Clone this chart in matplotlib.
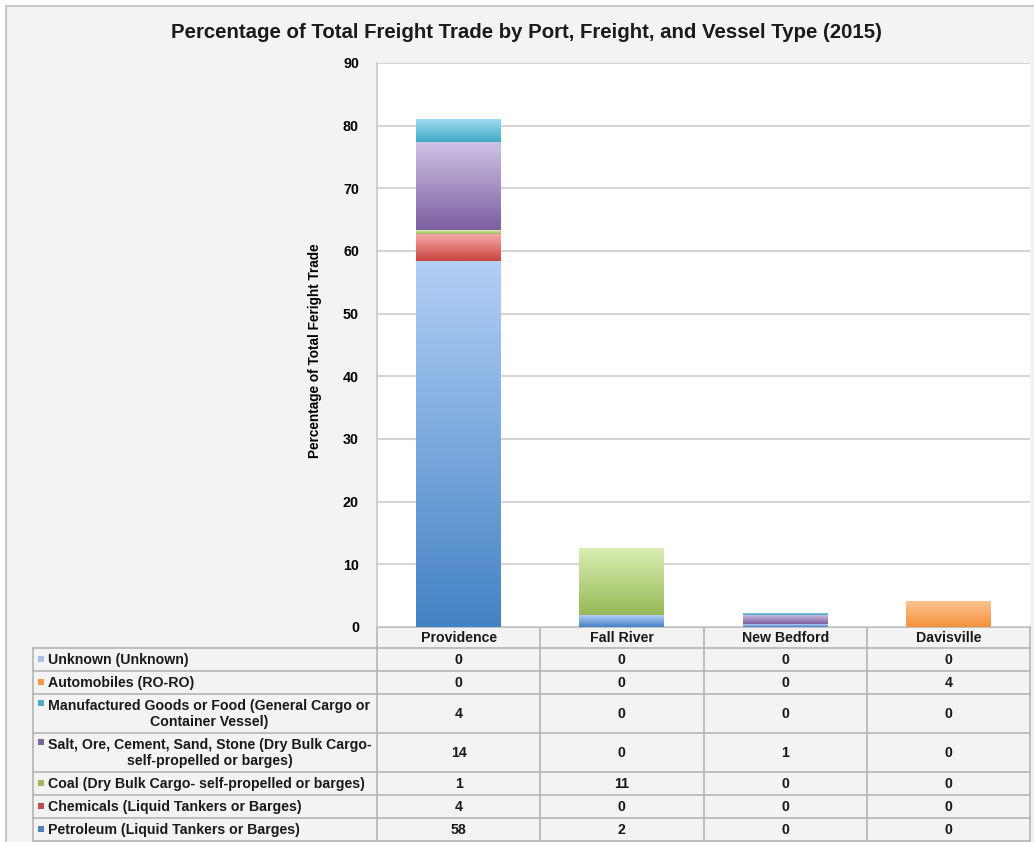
import numpy as np
import matplotlib
matplotlib.use("Agg")
import matplotlib.pyplot as plt
from matplotlib.colors import LinearSegmentedColormap
from matplotlib.patches import Rectangle

plt.rcParams['font.family'] = ['Liberation Sans', 'DejaVu Sans']

# Data (stacking order bottom -> top)
ports = ["Providence", "Fall River", "New Bedford", "Davisville"]
series_names = [
    "Petroleum (Liquid Tankers or Barges)",
    "Chemicals (Liquid Tankers or Barges)",
    "Coal (Dry Bulk Cargo- self-propelled or barges)",
    "Salt, Ore, Cement, Sand, Stone (Dry Bulk Cargo-\nself-propelled or barges)",
    "Manufactured Goods or Food (General Cargo or\nContainer Vessel)",
    "Automobiles (RO-RO)",
    "Unknown (Unknown)",
]
petroleum = [58.4, 1.9, 0.4, 0]
chemicals = [4.3, 0, 0, 0]
coal = [0.6, 10.75, 0, 0]
salt = [14.1, 0, 1.45, 0]
manufactured = [3.6, 0, 0.45, 0]
automobiles = [0, 0, 0, 4.1]
unknown = [0, 0, 0, 0]
series_values = [petroleum, chemicals, coal, salt, manufactured, automobiles, unknown]

# (dark bottom, light top, swatch)
series_colors = [
    ("#4382c4", "#b2cff6", "#4f81bd"),
    ("#c9433f", "#f6aaa8", "#c0504d"),
    ("#97b956", "#dbefb4", "#9bbb59"),
    ("#7b5fa0", "#d0c3e6", "#8064a2"),
    ("#40a9c6", "#9ddcf0", "#4bacc6"),
    ("#f4913d", "#fcc391", "#f79646"),
    ("#8eb0e0", "#c6d9f3", "#a5c0e6"),
]

W, H = 1034, 842
fig = plt.figure(figsize=(W / 100, H / 100), dpi=100, facecolor="white")

# background / table layer in pixel coords
tax = fig.add_axes([0, 0, 1, 1], zorder=0)
tax.set_xlim(0, W)
tax.set_ylim(H, 0)
tax.axis("off")
tax.add_patch(Rectangle((6, 6), 1200, 1000, facecolor="#f3f3f3",
                        edgecolor="#c6c6c6", lw=1.5))

ax_left, ax_right, ax_top, ax_bottom = 377, 1030, 63, 627
ax = fig.add_axes([ax_left / W, 1 - ax_bottom / H,
                   (ax_right - ax_left) / W, (ax_bottom - ax_top) / H], zorder=1)
ax.set_facecolor("white")

x = np.arange(len(ports))
bottom = np.zeros(len(ports))
for vals, (dark, light, _) in zip(series_values, series_colors):
    vals = np.array(vals, dtype=float)
    bars = ax.bar(x, vals, width=0.52, bottom=bottom, facecolor="none",
                  edgecolor="none", zorder=3)
    cmap = LinearSegmentedColormap.from_list("g", [dark, light])
    grad = np.linspace(0, 1, 256).reshape(-1, 1)
    for b, v, b0 in zip(bars, vals, bottom):
        if v <= 0:
            continue
        im = ax.imshow(grad, cmap=cmap, origin="lower", aspect="auto",
                       extent=(b.get_x(), b.get_x() + b.get_width(), b0, b0 + v),
                       zorder=3)
        im.set_clip_path(b)
    bottom += vals

ax.set_xlim(-0.5, len(ports) - 0.5)
ax.set_ylim(0, 90)
ax.set_yticks(range(0, 91, 10))
ax.set_xticks([])
ax.tick_params(axis="y", length=0, pad=13, labelsize=10.3)
for lbl in ax.get_yticklabels():
    lbl.set_fontweight("bold")
ax.grid(axis="y", color="#d4d4d4", lw=1.5, zorder=0)
ax.set_axisbelow(True)
for s in ["top", "right", "bottom"]:
    ax.spines[s].set_visible(False)
ax.spines["left"].set_color("#c8c8c8")
ax.spines["left"].set_linewidth(1.2)
ax.set_ylabel("Percentage of Total Feright Trade", fontsize=9.8, fontweight="bold")
ax.yaxis.set_label_coords((322 - ax_left) / (ax_right - ax_left), (627 - 351) / (627 - 63))

tax.text(526, 33, "Percentage of Total Freight Trade by Port, Freight, and Vessel Type (2015)",
         ha="center", va="center", fontsize=14.7, fontweight="bold", color="#1a1a1a")

# data table
line_c = "#b4b4b4"
col_w = (ax_right - ax_left) / len(ports)
col_edges = [ax_left + i * col_w for i in range(len(ports) + 1)]
row_edges = [648, 671, 694, 733, 772, 795, 818, 841]
label_left = 33

tax.plot([ax_left, ax_right], [627, 627], color=line_c, lw=1.2, zorder=2)
for xe in col_edges:
    tax.plot([xe, xe], [627, 841], color=line_c, lw=1.2, zorder=2)
tax.plot([label_left, label_left], [648, 841], color=line_c, lw=1.2, zorder=2)
for ye in row_edges:
    tax.plot([label_left, ax_right], [ye, ye], color=line_c, lw=1.2, zorder=2)

for i, p in enumerate(ports):
    tax.text((col_edges[i] + col_edges[i + 1]) / 2, 638.5, p, ha="center", va="center",
             fontsize=10.2, fontweight="bold", color="#1a1a1a")

rows = list(range(len(series_names)))[::-1]
for r, si in enumerate(rows):
    y0, y1 = row_edges[r], row_edges[r + 1]
    yc = (y0 + y1) / 2
    name = series_names[si]
    tax.text(48, yc + 0.5, name, ha="left", va="center", multialignment="center",
             fontsize=10.2, fontweight="bold", color="#1a1a1a", linespacing=1.15)
    first_line_y = yc if "\n" not in name else yc - 9.5
    tax.add_patch(Rectangle((38, first_line_y - 4), 6, 6,
                            facecolor=series_colors[si][2], edgecolor="none", zorder=3))
    for i in range(len(ports)):
        tax.text((col_edges[i] + col_edges[i + 1]) / 2, yc + 0.5,
                 f"{series_values[si][i]:.0f}", ha="center", va="center",
                 fontsize=10.2, fontweight="bold", color="#1a1a1a")

fig.savefig("out.png", dpi=100, facecolor="white")
